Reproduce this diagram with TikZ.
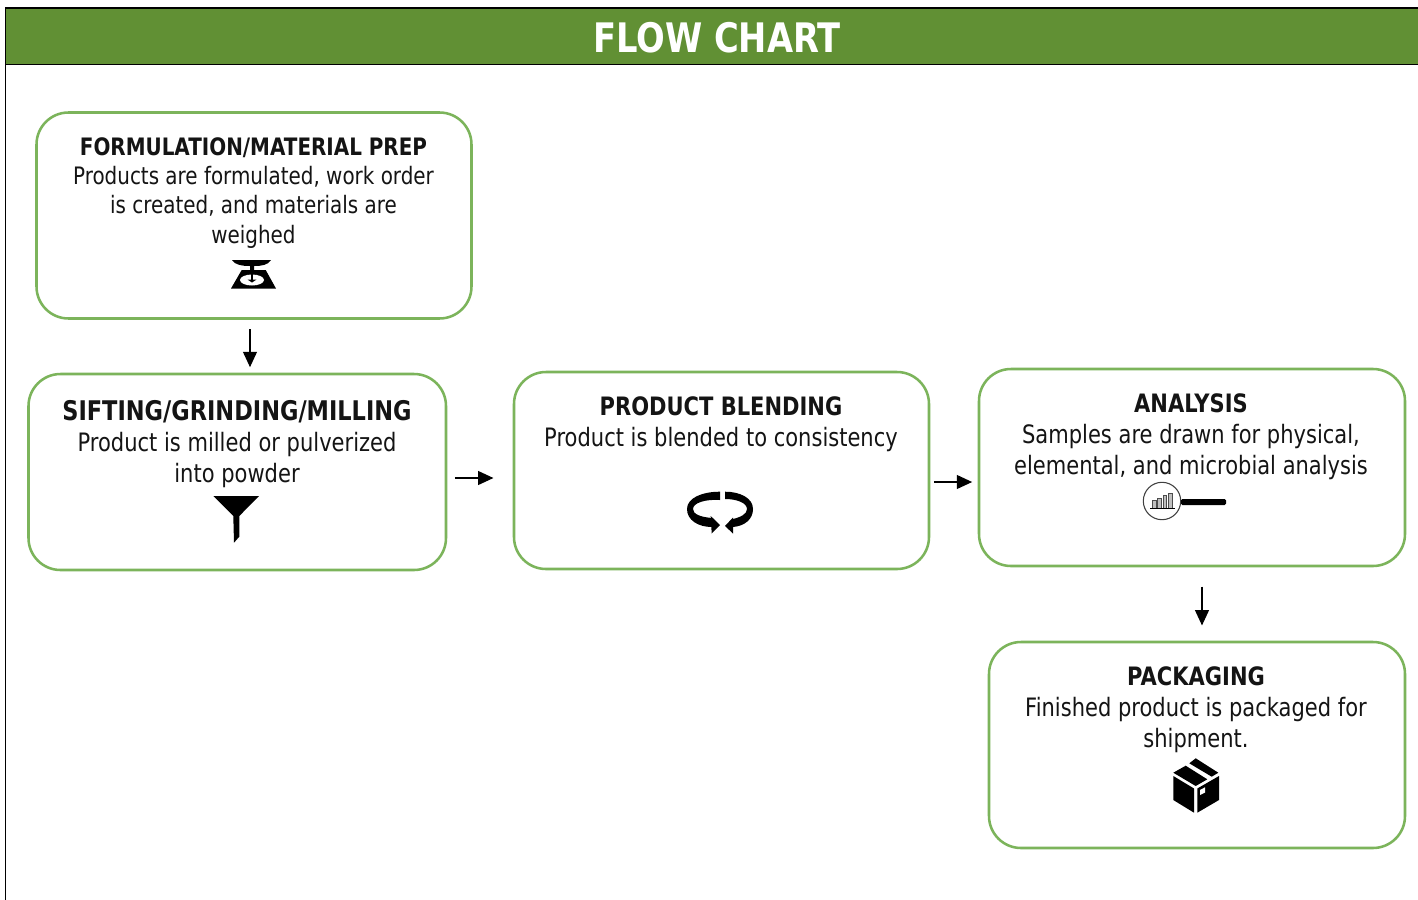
\documentclass[tikz,border=0pt]{standalone}
\usepackage{fontspec}
\usetikzlibrary{arrows.meta}
\setmainfont{DejaVu Sans}[FakeStretch=0.83]
\definecolor{hdr}{HTML}{619034}
\definecolor{edge}{HTML}{7CB45B}
\newcommand{\lineA}{\fontsize{18pt}{21.8pt}\selectfont}
\newcommand{\lineB}{\fontsize{19pt}{23.3pt}\selectfont}
\newcommand{\ttl}[1]{{\bfseries #1}}
\tikzset{
  x=0.75pt,y=-0.75pt,
  stepbox/.style={draw=edge,line width=1.9pt,rounded corners=24pt,fill=white,inner sep=0pt},
  copytext/.style={align=center,inner sep=0pt,text=black!92},
  flow/.style={draw=black,line width=0.85pt,-{Triangle[length=11.5pt,width=10.5pt]}},
  ink/.style={fill=black,draw=none},
  gap/.style={fill=white,draw=none}
}
\begin{document}
\begin{tikzpicture}
\useasboundingbox (0,0) rectangle (1418,900);
\fill[white] (0,0) rectangle (1418,900);
% frame and header
\node[fill=hdr,minimum width=1412*0.75pt,minimum height=56*0.75pt,inner sep=0pt,anchor=north west] (hd) at (6,8) {};
\draw[black,line width=0.8pt] (1418,8) -- (5.5,8) -- (5.5,900);
\draw[black,line width=0.8pt] (5.5,64.5) -- (1418,64.5);
\node[text=white,font=\fontsize{30.5pt}{32pt}\selectfont\bfseries,inner sep=0pt] (title) at (717,38) {FLOW CHART};
% boxes
\node[stepbox,minimum width=435*0.75pt,minimum height=206*0.75pt] (b1) at (254,215.5) {};
\node[stepbox,minimum width=417.5*0.75pt,minimum height=196*0.75pt] (b2) at (237.25,472) {};
\node[stepbox,minimum width=415*0.75pt,minimum height=197*0.75pt] (b3) at (721.5,470.5) {};
\node[stepbox,minimum width=426*0.75pt,minimum height=197*0.75pt] (b4) at (1192,467.5) {};
\node[stepbox,minimum width=416*0.75pt,minimum height=206*0.75pt] (b5) at (1197,745) {};
% texts
\node[copytext,font=\lineA] (t1) at (253.5,193) {\ttl{FORMULATION/MATERIAL PREP}\\Products are formulated, work order\\is created, and materials are\\weighed};
\node[copytext,font=\lineB] (t2) at (237,444) {{\fontsize{20.3pt}{23.3pt}\selectfont\bfseries SIFTING/GRINDING/MILLING}\\Product is milled or pulverized\\into powder};
\node[copytext,font=\lineB] (t3) at (721,424) {\ttl{PRODUCT BLENDING}\\Product is blended to consistency};
\node[copytext,font=\lineB] (t4) at (1191,437) {\ttl{ANALYSIS}\\Samples are drawn for physical,\\elemental, and microbial analysis};
\node[copytext,font=\lineB] (t5) at (1196,710) {\ttl{PACKAGING}\\Finished product is packaged for\\shipment.};
% connectors
\coordinate (xa) at (250,0);
\coordinate (ya) at (0,478);
\coordinate (yb) at (0,482);
\coordinate (xb) at (1202,0);
\draw[flow,shorten <=7pt,shorten >=4.2pt] (b1.south -| xa) -- (b2.north -| xa);
\draw[flow,shorten <=5.7pt,shorten >=14.5pt] (b2.east |- ya) -- (b3.west |- ya);
\draw[flow,shorten <=2.7pt,shorten >=4.2pt] (b3.east |- yb) -- (b4.west |- yb);
\draw[flow,shorten <=14.5pt,shorten >=11.5pt] (b4.south -| xb) -- (b5.north -| xb);
% scale icon
\fill[ink] (232,260) -- (271,260) .. controls (268,265) and (262,266) .. (254,266) -- (254,270) -- (265.7,270) -- (276,288.5) -- (231,288.5) -- (241.7,270) -- (250,270) -- (250,266) .. controls (242,266) and (235,265) .. (232,260) -- cycle;
\fill[gap] (252,280) ellipse[x radius=12,y radius=5.5];
\fill[ink] (250.7,273) rectangle (253.3,280);
\fill[ink] (247.5,279.5) -- (256.5,279.5) -- (252,282.5) -- cycle;
% funnel icon
\fill[ink] (213.3,496) -- (259,496) -- (239.3,516) -- (239.3,536.7) -- (234,542.7) -- (233.3,516) -- cycle;
% cycle icon
\fill[ink] (720,491.7) -- (720,500) .. controls (705,499) and (693,503) .. (693,509) .. controls (693,514) and (700,517) .. (712,518) -- (712,527) .. controls (698,527) and (687,520) .. (687,509) .. controls (687,498) and (702,491.7) .. (720,491.7) -- cycle;
\fill[ink] (710.7,516) -- (720,525) -- (711.7,533.5) -- cycle;
\fill[ink] (725,491.7) -- (725,499) .. controls (737,499) and (747,503) .. (747,509) .. controls (747,514) and (741,517) .. (733,519) -- (733,527) .. controls (745,526) and (753,519) .. (753,509) .. controls (753,498) and (740,491.7) .. (725,491.7) -- cycle;
\fill[ink] (733,517.5) -- (725,526) -- (733,533.5) -- cycle;
% analysis icon
\draw[black!75,line width=0.8pt,fill=white] (1162,501) circle[radius=18.7];
\fill[ink,rounded corners=1pt] (1181,499) rectangle (1226,505);
\foreach \xa/\xb/\yt in {1152/1156/500,1157.5/1161/498,1163/1166/495,1168/1172/493}{
  \draw[black!70,fill=black!25,line width=0.4pt] (\xa,508) rectangle (\xb,\yt);
}
\draw[black,line width=0.8pt] (1150,508.5) -- (1174.5,508.5);
% package icon
\fill[ink] (1173.3,776) -- (1194,788.5) -- (1194,812.7) -- (1173.3,800) -- cycle;
\fill[ink] (1197.3,788.5) -- (1219,776) -- (1219,800) -- (1197.3,812.7) -- cycle;
\fill[ink] (1173.3,772.7) -- (1185.7,765.7) -- (1207.3,779.3) -- (1195.7,786) -- cycle;
\fill[ink] (1195.7,758.3) -- (1218.3,772.7) -- (1211.7,776.7) -- (1189.3,763.3) -- cycle;
\fill[gap] (1200,790) -- (1205,787.3) -- (1205,792.5) -- (1200,795) -- cycle;
\end{tikzpicture}
\end{document}
